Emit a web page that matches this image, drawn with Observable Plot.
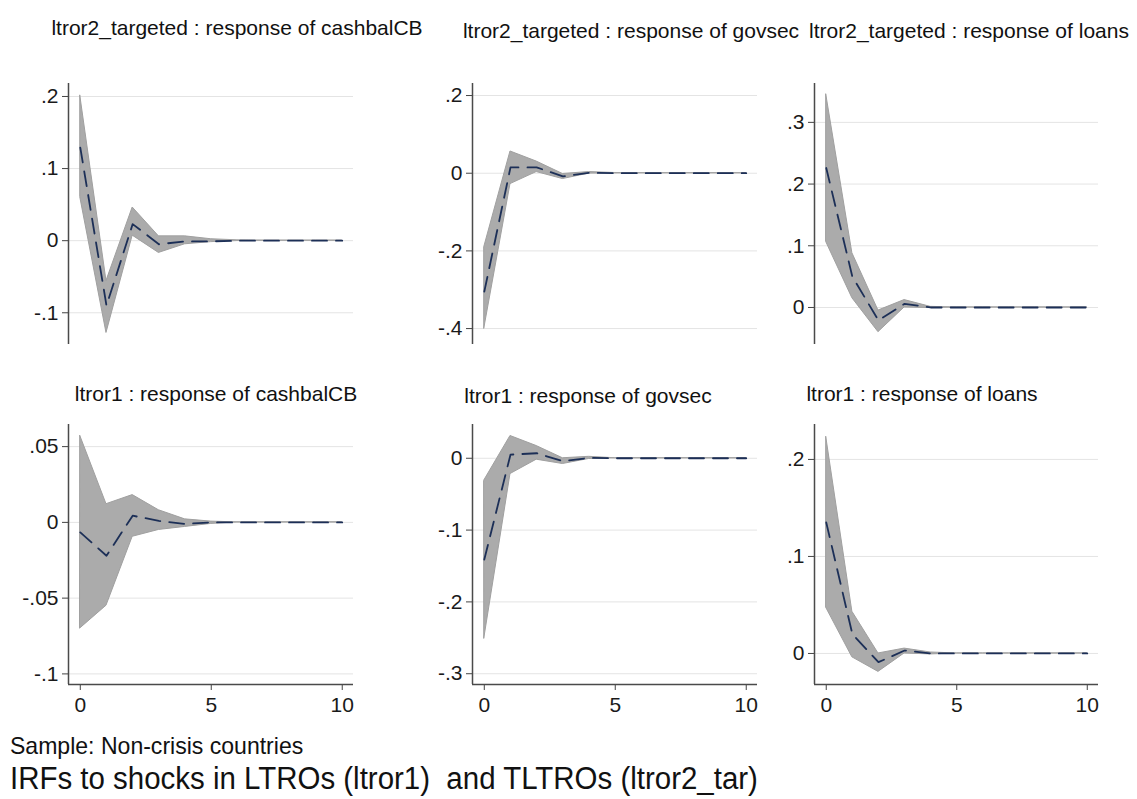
<!DOCTYPE html>
<html>
<head>
<meta charset="utf-8">
<script src="https://cdn.jsdelivr.net/npm/d3@7"></script>
<script src="https://cdn.jsdelivr.net/npm/@observablehq/plot@0.6"></script>
<style>
  html, body { margin: 0; padding: 0; background: #fff; }
  #root { position: relative; width: 1137px; height: 799px; background: #fff; overflow: hidden;
          font-family: "Liberation Sans", Arial, sans-serif; color: #111; }
  .ptitle { position: absolute; font-size: 21px; white-space: nowrap; transform: translate(-50%, -50%); }
  .panel { position: absolute; }
  .cap { position: absolute; left: 10px; white-space: pre; line-height: 1; }
</style>
</head>
<body>
<div id="root"></div>
<script>
// Horizon (steps)
const horizon = [0, 1, 2, 3, 4, 5, 6, 7, 8, 9, 10];

// Panel titles
const titles = [
  "ltror2_targeted : response of cashbalCB",
  "ltror2_targeted : response of govsec",
  "ltror2_targeted : response of loans",
  "ltror1 : response of cashbalCB",
  "ltror1 : response of govsec",
  "ltror1 : response of loans"
];

// ltror2_targeted -> cashbalCB
const irf1 = [0.129, -0.090, 0.023, -0.005, -0.001, -0.001, 0, 0, 0, 0, 0];
const hi1  = [0.201, -0.056, 0.046, 0.006, 0.006, 0.002, 0.0005, 0, 0, 0, 0];
const lo1  = [0.060, -0.128, 0.007, -0.017, -0.005, -0.002, -0.0005, 0, 0, 0, 0];

// ltror2_targeted -> govsec
const irf2 = [-0.305, 0.015, 0.015, -0.008, 0.001, 0, 0, 0, 0, 0, 0];
const hi2  = [-0.190, 0.056, 0.030, -0.002, 0.003, 0.0005, 0, 0, 0, 0, 0];
const lo2  = [-0.400, -0.028, 0.003, -0.015, -0.001, -0.0005, 0, 0, 0, 0, 0];

// ltror2_targeted -> loans
const irf3 = [0.226, 0.050, -0.021, 0.006, 0, 0, 0, 0, 0, 0, 0];
const hi3  = [0.345, 0.088, -0.005, 0.012, 0.001, 0, 0, 0, 0, 0, 0];
const lo3  = [0.106, 0.015, -0.040, 0.000, -0.001, 0, 0, 0, 0, 0, 0];

// ltror1 -> cashbalCB
const irf4 = [-0.0066, -0.022, 0.0044, 0.001, -0.001, 0, 0, 0, 0, 0, 0];
const hi4  = [0.057, 0.012, 0.018, 0.008, 0.002, 0.0005, 0, 0, 0, 0, 0];
const lo4  = [-0.070, -0.055, -0.0095, -0.005, -0.003, -0.001, 0, 0, 0, 0, 0];

// ltror1 -> govsec
const irf5 = [-0.141, 0.005, 0.007, -0.004, 0.0005, 0, 0, 0, 0, 0, 0];
const hi5  = [-0.031, 0.031, 0.017, 0.000, 0.002, 0, 0, 0, 0, 0, 0];
const lo5  = [-0.251, -0.022, -0.002, -0.008, -0.001, 0, 0, 0, 0, 0, 0];

// ltror1 -> loans
const irf6 = [0.135, 0.020, -0.009, 0.003, 0, 0, 0, 0, 0, 0, 0];
const hi6  = [0.223, 0.043, 0.000, 0.005, 0.001, 0, 0, 0, 0, 0, 0];
const lo6  = [0.047, -0.004, -0.019, 0.000, -0.001, 0, 0, 0, 0, 0, 0];

// Y tick values per panel
const yTicks = [
  [-0.1, 0, 0.1, 0.2],
  [-0.4, -0.2, 0, 0.2],
  [0, 0.1, 0.2, 0.3],
  [-0.1, -0.05, 0, 0.05],
  [-0.3, -0.2, -0.1, 0],
  [0, 0.1, 0.2]
];
const xTicks = [0, 5, 10];

const subtitle = "Sample: Non-crisis countries";
const caption = "IRFs to shocks in LTROs (ltror1)  and TLTROs (ltror2_tar)";

// ---- layout ----
const series = [[irf1, lo1, hi1], [irf2, lo2, hi2], [irf3, lo3, hi3],
                [irf4, lo4, hi4], [irf5, lo5, hi5], [irf6, lo6, hi6]];
const yDomains = [[-0.144, 0.218], [-0.441, 0.231], [-0.060, 0.363],
                  [-0.107, 0.0646], [-0.315, 0.047], [-0.032, 0.236]];
const colL = [68, 472, 814], colR = [353, 757, 1098];
const rowT = [83, 424], rowB = [344, 684];
const titlePos = [[237, 28], [631, 31], [969, 31], [216, 394], [588, 396], [922, 394]];
const xDomain = [-0.45, 10.43];
const mL = 60, mR = 12, mT = 10, mB = 40;

const fmt = v => v === 0 ? "0" : String(+v.toFixed(4)).replace("0.", ".");

const root = document.getElementById("root");

series.forEach(([irf, lo, hi], i) => {
  const col = i % 3, row = Math.floor(i / 3);
  const data = horizon.map((h, k) => ({h, irf: irf[k], lo: lo[k], hi: hi[k]}));
  const w = colR[col] - colL[col], hgt = rowB[row] - rowT[row];
  const bottom = row === 1;
  const marks = [
    Plot.gridY(yTicks[i], {stroke: "#e4e4e4", strokeOpacity: 1, strokeWidth: 1}),
    Plot.areaY(data, {x: "h", y1: "lo", y2: "hi", fill: "#ababab", stroke: "#a0a0a0", strokeWidth: 1}),
    Plot.lineY(data, {x: "h", y: "irf", stroke: "#1c2f57", strokeWidth: 1.8, strokeDasharray: "15,9"}),
    Plot.axisY({ticks: yTicks[i], tickFormat: fmt, tickSize: 6, tickPadding: 4, fontSize: 21, stroke: "#444", label: null}),
    Plot.ruleX([xDomain[0]], {stroke: "#4a4a4a", strokeWidth: 1.5})
  ];
  if (bottom) {
    marks.push(Plot.axisX({ticks: xTicks, tickFormat: d => String(d), tickSize: 6, tickPadding: 7, fontSize: 21, stroke: "#444", label: null}));
    marks.push(Plot.ruleY([yDomains[i][0]], {stroke: "#4a4a4a", strokeWidth: 1.5}));
  }
  const svg = Plot.plot({
    width: w + mL + mR,
    height: hgt + mT + mB,
    marginLeft: mL, marginRight: mR, marginTop: mT, marginBottom: mB,
    x: {domain: xDomain, axis: bottom ? undefined : null},
    y: {domain: yDomains[i]},
    style: {fontFamily: '"Liberation Sans", Arial, sans-serif', fontSize: "21px", color: "#1a1a1a", background: "transparent", overflow: "visible"},
    marks
  });
  svg.classList.add("panel");
  svg.style.left = (colL[col] - mL) + "px";
  svg.style.top = (rowT[row] - mT) + "px";
  root.appendChild(svg);

  const t = document.createElement("div");
  t.className = "ptitle";
  t.textContent = titles[i];
  t.style.left = titlePos[i][0] + "px";
  t.style.top = titlePos[i][1] + "px";
  root.appendChild(t);
});

const s1 = document.createElement("div");
s1.className = "cap";
s1.style.top = "734px";
s1.style.fontSize = "24px";
s1.style.transformOrigin = "left top";
s1.style.transform = "scaleX(0.96)";
s1.textContent = subtitle;
root.appendChild(s1);

const s2 = document.createElement("div");
s2.className = "cap";
s2.style.top = "763px";
s2.style.fontSize = "31px";
s2.style.transformOrigin = "left top";
s2.style.transform = "scaleX(0.95)";
s2.textContent = caption;
root.appendChild(s2);
</script>
</body>
</html>
